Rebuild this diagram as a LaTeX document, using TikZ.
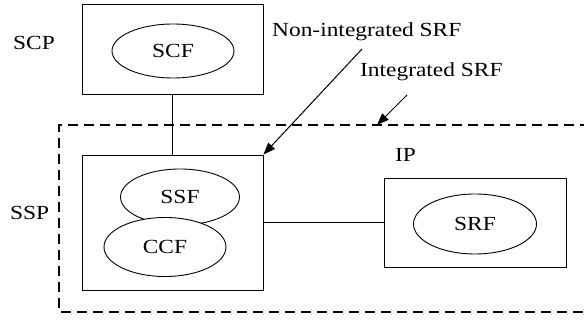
\documentclass[tikz,border=0pt]{standalone}
\usepackage{fontspec}
\setmainfont{Liberation Serif}[FakeStretch=1.17]
\usetikzlibrary{arrows.meta, positioning, shapes.geometric}
\tikzset{
	entity/.style={rectangle, draw=black, line width=0.9pt, minimum width=181pt, inner sep=0pt},
	func/.style={ellipse, draw=black, line width=0.9pt, fill=white, inner sep=0pt, font=\fontsize{20}{22}\selectfont},
	tag/.style={anchor=base west, inner sep=0pt, font=\fontsize{20}{22}\selectfont},
	link/.style={line width=0.9pt},
	pointer/.style={-{Triangle[length=12pt, width=9pt]}, line width=1pt},
	sspzone/.style={line width=1.6pt, dash pattern=on 10pt off 6pt},
}
\begin{document}
\begin{tikzpicture}[x=1pt, y=-1pt]
		\useasboundingbox (0,0) rectangle (584,320);
		% SSP domain (open on the right)
		\draw[sspzone] (590,125) -- (59,125) -- (59,312) -- (590,312);
		% physical entities
		\node[entity, minimum height=90pt] (scp) at (172.5,49) {};
		\node[entity, minimum height=135pt] (ssp) at (172.5,222.5) {};
		\node[entity, minimum width=182pt, minimum height=89pt] (ip) at (475,222.5) {};
		% functional entities
		\node[func, minimum width=122pt, minimum height=54pt] (scf) at (173,51) {SCF};
		\node[func, minimum width=119pt, minimum height=56pt] (ssf) at (180,197) {SSF};
		\node[func, minimum width=122pt, minimum height=59pt] (ccf) at (165,247) {CCF};
		\node[func, minimum width=123pt, minimum height=60pt] (srf) at (475,224) {SRF};
		% labels
		\node[tag] (scplbl) at (13,49.5) {SCP};
		\node[tag] (ssplbl) at (10,220) {SSP};
		\node[tag] (iplbl) at (395,162) {IP};
		\node[tag] (nonint) at (272,37) {Non-integrated SRF};
		\node[tag] (integ) at (360,77) {Integrated SRF};
		\coordinate (nonstart) at (362,49);
		\coordinate (intstart) at (407,95);
		\coordinate (intend) at (377,125);
		% connections
		\draw[link] (scp.south) -- (ssp.north);
		\draw[link] (ssp.east) -- (ip.west);
		\draw[pointer] (nonstart) -- (ssp.north east);
		\draw[pointer] (intstart) -- (intend);
	\end{tikzpicture}
\end{document}
